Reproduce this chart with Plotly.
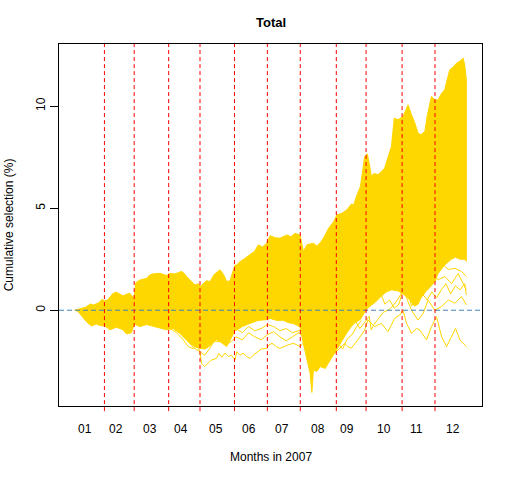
import plotly.graph_objects as go

# ---- data (trading-day index 1..251 in 2007, cumulative selection %) ----
month_labels = ["01", "02", "03", "04", "05", "06", "07", "08", "09", "10", "11", "12"]
month_label_pos = [7.9, 27.3, 49.1, 68.8, 91.2, 112.2, 133.3, 156.4, 174.9, 198.4, 219.3, 242.3]
month_ends = [20, 39, 61, 81, 103, 124, 145, 168, 187, 210, 231]

# upper edge of the bundle of simulated paths
upper_x = [1, 3, 5, 8, 11, 13, 16, 18.7, 20, 22, 25.5, 27.7, 30, 31.9, 34, 36.2, 38.8, 40, 42.6, 46.9,
           49, 51.1, 55.4, 59.6, 61.8, 64.9, 69.3, 70.3, 72.5, 73.5, 76.7, 77.8, 80, 81, 85.2, 87.4, 90,
           93.8, 96, 98.1, 100.2, 101.3, 103.3, 104.4, 106.5, 109, 112.9, 116, 118.2, 121, 123.5, 125.7,
           129, 132.1, 134, 136.4, 139, 141.7, 142.8, 144.9, 147, 149.2, 151.3, 153.4, 155.5, 157.7, 160,
           163.1, 166.3, 168.4, 171.6, 174.8, 177.6, 179.1, 181, 183.4, 186.1, 187.8, 189, 190.4, 192,
           194.6, 196.8, 198.9, 201, 203.2, 205, 207.4, 210.6, 212.5, 213.8, 216, 218, 220.2, 222, 224.5,
           226, 228.7, 231, 233, 235, 237.2, 240.4, 242.5, 244.7, 247, 248.9, 250, 251]
upper_y = [0.0, 0.05, 0.1, 0.15, 0.3, 0.26, 0.35, 0.54, 0.45, 0.5, 0.83, 0.88, 0.78, 0.70, 0.78, 0.83, 0.6,
           1.35, 1.48, 1.56, 1.73, 1.78, 1.81, 1.7, 1.8, 1.78, 1.9, 1.85, 1.65, 1.56, 1.32, 1.24, 1.30,
           1.16, 1.45, 1.4, 1.75, 1.98, 1.75, 1.4, 1.45, 1.73, 2.2, 2.22, 2.38, 2.5, 2.71, 2.9, 3.2, 3.1,
           3.28, 3.65, 3.55, 3.53, 3.6, 3.69, 3.6, 3.77, 3.74, 3.69, 2.87, 3.2, 3.25, 3.28, 3.15, 3.3,
           3.55, 4.02, 4.34, 4.67, 4.75, 4.92, 5.2, 5.16, 5.6, 6.06, 7.53, 7.66, 7.2, 6.56, 6.7, 6.64,
           6.8, 6.96, 7.5, 8.02, 9.41, 9.33, 9.49, 9.8, 10.06, 9.57, 9.2, 8.67, 8.6, 8.75, 9.5, 10.47,
           10.3, 10.3, 10.6, 10.8, 11.78, 11.9, 12.1, 12.2, 12.35, 12.0, 11.29]

# lower edge of the dense part of the bundle
lower_x = [1, 3, 5, 8.5, 11.7, 14.9, 17, 20.3, 23.5, 27.7, 31.9, 34.1, 37.3, 39, 42.6, 46.9, 49, 55.4,
           59.6, 63.9, 68.1, 70.3, 74.5, 78, 81, 84, 86.3, 91.6, 95, 98, 100, 103.3, 104.4, 108, 113,
           118, 123.5, 125.7, 130, 134.2, 137, 140.6, 144.9, 147, 149.2, 151.3, 152.4, 153.4, 155.6,
           157.7, 160.9, 164.1, 166, 168.4, 171.6, 174.8, 177.6, 180, 183.4, 186.1, 188, 190.4, 193,
           196.8, 200, 203.2, 207.4, 210.6, 213.8, 216, 218, 220.2, 222, 225, 228.7, 231, 233, 237,
           241.5, 244, 247, 250, 251]
lower_y = [0.0, -0.05, -0.23, -0.56, -0.77, -0.67, -0.75, -0.77, -0.96, -0.83, -0.96, -1.16, -1.1, -0.67,
           -0.8, -0.7, -0.72, -0.87, -0.96, -0.9, -1.13, -1.3, -1.62, -1.8, -1.86, -1.9, -1.8, -1.45,
           -1.6, -1.78, -1.5, -1.0, -0.97, -0.8, -0.64, -0.5, -0.46, -0.4, -0.5, -0.49, -0.6, -0.65,
           -0.82, -1.63, -2.45, -3.1, -4.03, -2.93, -3.0, -2.76, -2.85, -2.43, -2.2, -1.9, -1.5, -1.1,
           -0.8, -0.6, -0.45, -0.1, 0.1, 0.25, 0.4, 0.7, 0.9, 1.0, 0.95, 0.8, 0.6, 0.4, 0.2, 0.3,
           0.6, 0.9, 1.2, 1.4, 1.8, 2.2, 2.5, 2.6, 2.5, 2.5, 2.4]

# individual paths lying outside the dense part
path1_x = [62, 66, 70.3, 73.5, 76.7, 78.8, 80.9, 82, 84, 86, 88, 91.6, 93, 95, 97, 99.2, 101, 103.4, 104.4,
           106.5, 108.5, 110.8, 113, 115, 118.2, 120, 123.5, 125, 127, 130, 132, 135, 137, 140.7, 143,
           144.9, 147]
path1_y = [-0.9, -1.1, -1.45, -1.78, -1.88, -1.62, -2.03, -2.6, -2.76, -2.6, -2.45, -2.35, -2.11, -2.3,
           -2.1, -2.27, -2.2, -2.44, -2.03, -2.2, -2.1, -2.27, -2.36, -2.2, -2.03, -1.9, -1.87, -1.7,
           -1.62, -1.8, -1.87, -1.75, -1.7, -1.62, -1.7, -1.78, -1.6]

path2_x = [66, 70, 74.5, 78, 81, 84, 87, 90, 93, 97, 100, 104, 108, 112, 116, 120, 124, 128, 132, 136,
           140, 144, 147]
path2_y = [-1.0, -1.2, -1.62, -1.9, -2.03, -2.2, -1.9, -1.5, -1.55, -1.4, -1.6, -1.3, -1.45, -1.1, -1.3,
           -1.45, -1.2, -1.05, -1.3, -1.5, -1.3, -1.1, -1.3]

path3_x = [160, 164.8, 166.9, 169.1, 173.3, 175.4, 177.6, 181.8, 186.1, 188.2, 192.5, 196.8, 201, 205.3,
           208.5, 210.6, 212.8, 216, 219.2, 221.3, 225.6, 228.8, 232, 235.2, 238.4, 241.6, 244.1, 246.9,
           249, 251]
path3_y = [-2.6, -2.27, -2.1, -1.95, -1.62, -1.78, -1.86, -1.45, -0.97, -0.48, -0.8, -0.64, -1.05, -0.39,
           -0.23, 0.0, -0.64, -1.13, -0.89, -0.97, -1.45, -0.8, -0.32, -1.29, -1.78, -1.29, -0.89, -1.45,
           -1.6, -1.78]

path4_x = [209, 211.7, 216, 220.2, 223.4, 226.6, 230.9, 235.2, 239.5, 243.7, 247.9, 251]
path4_y = [1.2, 0.83, 0.0, -0.48, -0.16, 0.5, 0.0, 0.18, 0.5, 0.34, 0.67, 0.26]

path5_x = [222, 225, 228.8, 233, 237.3, 241.6, 245.8, 251]
path5_y = [0.8, 1.2, 1.8, 1.5, 1.65, 1.3, 1.8, 0.99]

path6_x = [230, 235.2, 239.5, 243.7, 247.9, 251]
path6_y = [2.0, 2.3, 2.0, 2.05, 1.9, 1.65]

path7_x = [178, 180, 183, 186, 189, 190.3, 192, 195, 198, 201, 204, 207, 210]
path7_y = [-0.6, -0.5, -0.9, -0.6, -0.3, -0.96, -0.7, -0.4, -0.1, 0.0, 0.2, 0.5, 0.9]

path8_x = [194, 196, 199, 202, 205, 208, 211, 213, 216, 219, 222]
path8_y = [0.8, 0.9, 0.3, 0.5, 0.1, 0.3, 1.1, 1.3, 0.2, 0.6, 0.7]

path9_x = [218, 220, 223, 226, 229, 232, 235, 238, 241, 244, 247, 250, 251]
path9_y = [0.3, 0.4, 0.8, 0.5, 0.9, 0.6, 1.0, 1.3, 0.8, 1.2, 1.0, 1.3, 0.75]

path10_x = [166, 169, 172, 175, 178, 181, 184]
path10_y = [-2.0, -1.6, -1.9, -1.4, -1.2, -0.8, -0.5]

path11_x = [100, 104, 108, 112, 116, 120, 124, 128, 132, 136, 140, 144, 146]
path11_y = [-1.2, -0.9, -1.1, -0.8, -1.0, -0.9, -0.7, -0.8, -1.0, -0.9, -1.1, -1.0, -0.9]

lower_paths = [(path1_x, path1_y), (path2_x, path2_y), (path3_x, path3_y),
               (path4_x, path4_y), (path5_x, path5_y), (path6_x, path6_y),
               (path7_x, path7_y), (path8_x, path8_y), (path9_x, path9_y),
               (path10_x, path10_y), (path11_x, path11_y)]

# ---- figure ----
GOLD = "#FFD700"
FONT = "Liberation Sans, Arial, sans-serif"
fig = go.Figure()

band_x = upper_x + lower_x[::-1]
band_y = upper_y + lower_y[::-1]
fig.add_trace(go.Scatter(x=band_x, y=band_y, mode="lines", fill="toself", fillcolor=GOLD,
                         line=dict(color=GOLD, width=1), hoverinfo="skip", showlegend=False))
for px, py in lower_paths:
    fig.add_trace(go.Scatter(x=px, y=py, mode="lines", line=dict(color=GOLD, width=1),
                             showlegend=False))

# horizontal zero line
fig.add_shape(type="line", xref="paper", yref="y", x0=0, x1=1, y0=0, y1=0,
              line=dict(color="#4682B4", width=1, dash="5px,3px"))
# month boundaries
for b in month_ends:
    fig.add_shape(type="line", xref="x", yref="paper", x0=b, x1=b, y0=-0.014, y1=1,
                  line=dict(color="red", width=1, dash="4px,3px"))

for lab, pos in zip(month_labels, month_label_pos):
    fig.add_annotation(x=pos, y=-0.0635, xref="x", yref="paper", text=lab, showarrow=False,
                       font=dict(size=12, color="black", family=FONT),
                       xanchor="center", yanchor="middle")

fig.add_annotation(x=0.5, y=-0.141, xref="paper", yref="paper", text="Months in 2007",
                   showarrow=False, font=dict(size=12, color="black", family=FONT),
                   xanchor="center", yanchor="middle")
fig.add_annotation(x=-0.1175, y=0.5, xref="paper", yref="paper", text="Cumulative selection (%)",
                   showarrow=False, textangle=-90, font=dict(size=12, color="black", family=FONT),
                   xanchor="center", yanchor="middle")
fig.add_annotation(x=0.5, y=1.0588, xref="paper", yref="paper", text="<b>Total</b>",
                   showarrow=False, font=dict(size=13, color="black", family=FONT),
                   xanchor="center", yanchor="middle")

fig.update_layout(
    width=512, height=480, autosize=False,
    margin=dict(l=59, r=30, t=44, b=74, autoexpand=False),
    plot_bgcolor="white", paper_bgcolor="white",
    font=dict(family=FONT, size=12, color="black"),
    showlegend=False,
)
fig.update_xaxes(range=[-9, 261], showgrid=False, zeroline=False, showticklabels=False, ticks="",
                 showline=True, mirror=True, linecolor="black", linewidth=1, automargin=False)
fig.update_yaxes(range=[-4.69, 13.04], showgrid=False, zeroline=False, tickvals=[0, 5, 10],
                 ticks="outside", ticklen=8, tickcolor="black", tickangle=-90,
                 showline=True, mirror=True, linecolor="black", linewidth=1, automargin=False,
                 tickfont=dict(size=12))

# remove the default 8px page margin so the 512x480 figure fills the window exactly
fig.write_html("out.html", config={"displayModeBar": False},
               post_script="document.body.style.margin='0';document.body.style.overflow='hidden';")
